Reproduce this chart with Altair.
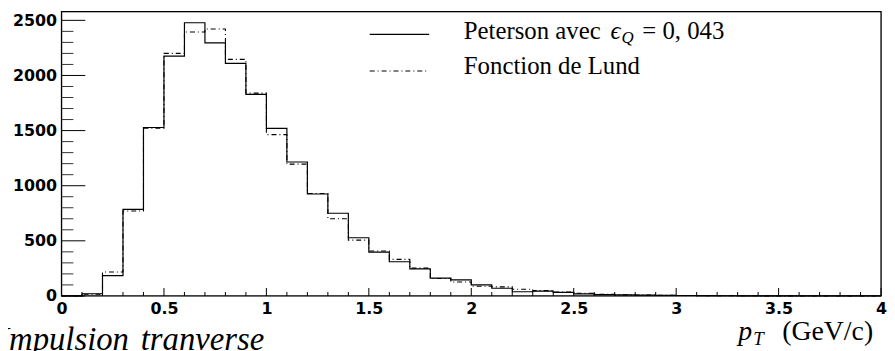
import altair as alt
import pandas as pd

# bin lower edges (width 0.1 GeV/c, 0 -> 4)
edges = [round(0.1 * i, 1) for i in range(41)]

peterson = [0, 20, 185, 785, 1528, 2176, 2478, 2296, 2110, 1828,
            1520, 1215, 925, 750, 528, 398, 310, 245, 162, 145,
            100, 70, 38, 43, 32, 18, 12, 9, 7, 5,
            4, 3, 2, 1, 1, 0, 0, 0, 0, 0]
lund = [0, 15, 217, 770, 1522, 2200, 2395, 2422, 2146, 1840,
        1463, 1196, 929, 700, 506, 408, 332, 252, 158, 127,
        88, 82, 60, 48, 36, 24, 14, 10, 8, 6,
        4, 3, 2, 2, 1, 1, 0, 0, 0, 0]

y_major = [0, 500, 1000, 1500, 2000, 2500]
y_minor = [v for v in range(100, 2600, 100) if v % 500 != 0]
x_major = [0, 0.5, 1, 1.5, 2, 2.5, 3, 3.5, 4]
x_minor = [round(0.1 * i, 1) for i in range(1, 40) if i % 5 != 0]

W, H = 827, 287
YMAX = 2580


def steps(vals):
    return pd.DataFrame({"x": edges, "y": vals + [vals[-1]]})


xs = alt.Scale(domain=[0, 4], nice=False, zero=False)
ys = alt.Scale(domain=[0, YMAX], nice=False)

axis_common = dict(ticks=False, tickSize=0, domain=False, grid=False,
                   labelFont="DejaVu Sans", labelFontWeight="bold",
                   labelFontSize=16, labelColor="black", title=None,
                   labelOverlap=False, labelBound=False, labelPadding=5)
xa = alt.Axis(values=x_major, format="~g", labelFlush=False, **axis_common)
ya = alt.Axis(values=y_major, format="d", **axis_common)

pet = alt.Chart(steps(peterson)).mark_line(
    interpolate="step-after", color="black", strokeWidth=1.2
).encode(x=alt.X("x:Q", scale=xs, axis=xa), y=alt.Y("y:Q", scale=ys, axis=ya))

lun = alt.Chart(steps(lund)).mark_line(
    interpolate="step-after", color="black", strokeWidth=1.1,
    strokeDash=[5, 3, 1, 3]
).encode(x=alt.X("x:Q", scale=xs, axis=xa), y=alt.Y("y:Q", scale=ys, axis=ya))

yM = alt.Chart(pd.DataFrame({"y": y_major})).mark_rule(color="black", strokeWidth=1).encode(
    y=alt.Y("y:Q", scale=ys, axis=ya), x=alt.value(0), x2=alt.value(24))
ym = alt.Chart(pd.DataFrame({"y": y_minor})).mark_rule(color="#333", strokeWidth=1).encode(
    y=alt.Y("y:Q", scale=ys, axis=ya), x=alt.value(0), x2=alt.value(12))
xM = alt.Chart(pd.DataFrame({"x": x_major})).mark_rule(color="black", strokeWidth=1).encode(
    x=alt.X("x:Q", scale=xs, axis=xa), y=alt.value(H), y2=alt.value(H - 8))
xm = alt.Chart(pd.DataFrame({"x": x_minor})).mark_rule(color="black", strokeWidth=1).encode(
    x=alt.X("x:Q", scale=xs, axis=xa), y=alt.value(H), y2=alt.value(H - 4))

frame = alt.Chart(pd.DataFrame({"a": [0]})).mark_rect(
    fill=None, stroke="black", strokeWidth=1.3).encode(
    x=alt.value(0), x2=alt.value(W), y=alt.value(0), y2=alt.value(H))

# legend
leg_solid = alt.Chart(pd.DataFrame({"a": [0]})).mark_rule(color="black", strokeWidth=1.2).encode(
    x=alt.value(311), x2=alt.value(371), y=alt.value(23))
leg_dash = alt.Chart(pd.DataFrame({"a": [0]})).mark_rule(
    color="black", strokeWidth=1.1, strokeDash=[5, 3, 1, 3]).encode(
    x=alt.value(311), x2=alt.value(371), y=alt.value(60))

SERIF = "Liberation Serif"


def txt(s, x, y, size, style="normal", align="left"):
    return alt.Chart(pd.DataFrame({"t": [s]})).mark_text(
        font=SERIF, fontSize=size, fontStyle=style, align=align,
        baseline="alphabetic", color="black"
    ).encode(text="t:N", x=alt.value(x), y=alt.value(y))


texts = [
    txt("Peterson avec", 406, 28, 25),
    txt("\u03f5", 554, 28, 25, "italic"),
    txt("Q", 565, 32, 17, "italic"),
    txt("= 0, 043", 586, 28, 25),
    txt("Fonction de Lund", 406, 63, 25),
    txt("p", 683, 331, 28, "italic"),
    txt("T", 698, 337, 19, "italic"),
    txt("(GeV/c)", 819, 331, 28, align="right"),
    txt("Impulsion", 68, 342, 33, "italic", align="right"),
    txt("tranverse", 80, 342, 33, "italic"),
]

chart = alt.layer(pet, lun, yM, ym, xM, xm, frame, leg_solid, leg_dash, *texts).properties(
    width=W, height=H,
    autosize=alt.AutoSizeParams(type="none"),
    padding={"left": 54, "top": 2, "right": 6, "bottom": 54},
).configure_view(strokeWidth=0).configure(background="white")

chart.save("out.html", embed_options={"renderer": "svg", "actions": False})
